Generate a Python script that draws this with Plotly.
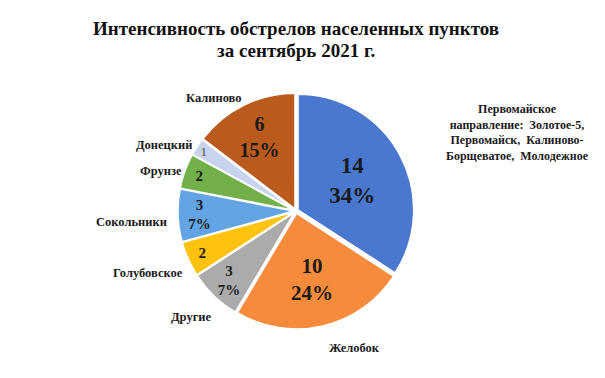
import plotly.graph_objects as go

labels = ["Первомайское", "Желобок", "Другие", "Голубовское", "Сокольники", "Фрунзе", "Донецкий", "Калиново"]
values = [14, 10, 3, 2, 3, 2, 1, 6]
colors = ["#4A78CF", "#F68B3C", "#ABABAB", "#FFC20E", "#62A4E4", "#72B04A", "#C8D3EE", "#BA5A1D"]
show_pct = [True, True, True, False, True, False, False, True]
bold_text = [True, True, True, True, True, True, False, True]
text_sizes = [23, 21, 15, 15, 15, 15, 13, 20]
text_colors = ["#1a1a1a", "#1a1a1a", "#1a1a1a", "#1a1a1a", "#1a1a1a", "#1a1a1a", "#555555", "#1a1a1a"]

label_pos = {
    "Первомайское": (509, 124),
    "Желобок": (346, 340),
    "Другие": (184, 309),
    "Голубовское": (140, 265),
    "Сокольники": (123, 214),
    "Фрунзе": (153, 163),
    "Донецкий": (156, 137),
    "Калиново": (206, 90),
}
label_text = {
    "Первомайское": "Первомайское<br>направление:  Золотое-5,<br>Первомайск,  Калиново-<br>Борщеватое,  Молодежное",
}
label_sizes = {"Первомайское": 12}
title_lines = ["Интенсивность обстрелов населенных пунктов", "за сентябрь 2021 г."]

FONT = "Times New Roman, Liberation Serif, Tinos, DejaVu Serif, serif"
W, H = 605, 378
total = sum(values)
texts = []
for v, p, b in zip(values, show_pct, bold_text):
    pct = round(100 * v / total)
    t = f"{v}<br>{pct}%" if p else f"{v}"
    texts.append(f"<b>{t}</b>" if b else t)

cx, cy, R = 288, 203, 118
fig = go.Figure(go.Pie(
    labels=labels, values=values, text=texts, textinfo="text",
    sort=False, direction="clockwise", rotation=0,
    marker=dict(colors=colors, line=dict(color="white", width=1.5)),
    pull=[0.02] * len(values),
    textposition="inside", insidetextorientation="horizontal",
    textfont=dict(family=FONT, size=text_sizes, color=text_colors),
    hoverinfo="label+value+percent",
    domain=dict(x=[(cx - R) / W, (cx + R) / W], y=[1 - (cy + R) / H, 1 - (cy - R) / H]),
    showlegend=False,
))

for name, (px, py) in label_pos.items():
    fig.add_annotation(
        x=px / W, y=1 - py / H, xref="paper", yref="paper",
        text=f"<b>{label_text.get(name, name)}</b>", showarrow=False,
        font=dict(family=FONT, size=label_sizes.get(name, 12.5), color="#1a1a1a"),
        xanchor="center", yanchor="middle", align="center",
    )

for line, py in zip(title_lines, [20, 42]):
    fig.add_annotation(
        x=288 / W, y=1 - py / H, xref="paper", yref="paper",
        text=f"<b>{line}</b>",
        showarrow=False, xanchor="center", yanchor="middle", align="center",
        font=dict(family=FONT, size=19, color="#111111"),
    )

fig.update_layout(
    width=W, height=H,
    margin=dict(l=0, r=0, t=0, b=0),
    paper_bgcolor="white", plot_bgcolor="white",
)

fig.write_html("out.html")
